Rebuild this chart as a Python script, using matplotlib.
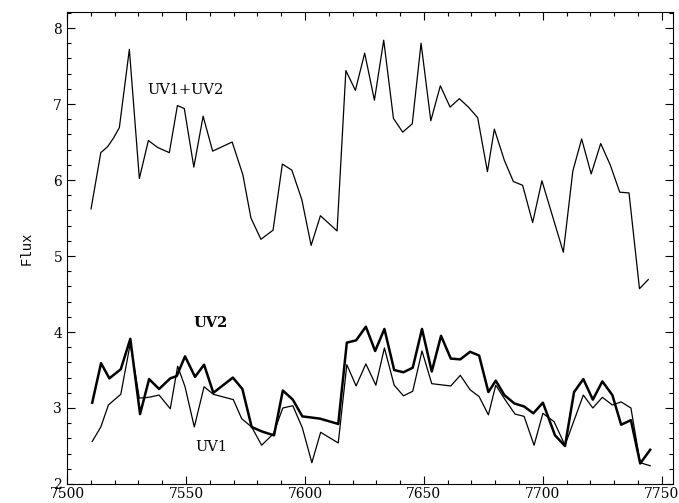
import numpy as np
import matplotlib
matplotlib.use("Agg")
import matplotlib.pyplot as plt
from matplotlib.ticker import MultipleLocator

# wavelength / flux values
wl_sum = [7510.1, 7514.2, 7517.1, 7519.5, 7522.0, 7526.2, 7530.4, 7534.2, 7538.0, 7543.0,
          7546.4, 7549.3, 7553.3, 7557.2, 7561.2, 7569.4, 7573.9, 7577.3, 7581.5, 7586.6,
          7590.5, 7594.5, 7598.7, 7602.6, 7606.5, 7613.5, 7617.2, 7621.2, 7625.1, 7629.2,
          7633.1, 7637.2, 7641.1, 7645.1, 7648.8, 7652.9, 7656.9, 7661.0, 7664.9, 7668.7,
          7672.6, 7676.7, 7679.6, 7683.8, 7687.6, 7691.5, 7695.7, 7699.6, 7708.6, 7712.6,
          7716.3, 7720.3, 7724.3, 7728.3, 7732.3, 7736.2, 7740.6, 7744.3]
flux_sum = [5.62, 6.36, 6.44, 6.55, 6.69, 7.72, 6.02, 6.52, 6.43, 6.36,
            6.98, 6.94, 6.17, 6.84, 6.38, 6.50, 6.07, 5.50, 5.22, 5.34,
            6.21, 6.13, 5.74, 5.14, 5.53, 5.33, 7.44, 7.18, 7.67, 7.05,
            7.84, 6.81, 6.63, 6.74, 7.80, 6.78, 7.24, 6.96, 7.07, 6.96,
            6.82, 6.11, 6.67, 6.26, 5.98, 5.93, 5.44, 5.99, 5.05, 6.12,
            6.54, 6.08, 6.48, 6.20, 5.84, 5.83, 4.57, 4.69]

wl_uv2 = [7510.6, 7514.3, 7517.8, 7522.6, 7526.6, 7530.7, 7534.5, 7538.7, 7543.4, 7546.1,
          7549.6, 7553.8, 7557.6, 7561.5, 7569.7, 7573.7, 7577.6, 7582.0, 7587.0, 7590.7,
          7594.9, 7598.9, 7606.3, 7614.0, 7617.6, 7621.5, 7625.6, 7629.5, 7633.4, 7637.5,
          7641.4, 7645.3, 7649.2, 7653.3, 7657.2, 7661.3, 7665.3, 7669.4, 7673.2, 7677.1,
          7680.2, 7683.8, 7688.0, 7692.1, 7696.0, 7700.0, 7705.1, 7709.3, 7713.1, 7717.0,
          7721.0, 7725.0, 7729.2, 7732.9, 7737.0, 7740.9, 7745.1]
flux_uv2 = [3.07, 3.59, 3.39, 3.51, 3.91, 2.92, 3.38, 3.25, 3.39, 3.42,
            3.68, 3.41, 3.57, 3.20, 3.40, 3.25, 2.75, 2.69, 2.64, 3.23,
            3.11, 2.89, 2.86, 2.79, 3.86, 3.89, 4.07, 3.75, 4.04, 3.50,
            3.47, 3.53, 4.04, 3.48, 3.95, 3.65, 3.64, 3.74, 3.69, 3.21,
            3.36, 3.17, 3.06, 3.02, 2.93, 3.07, 2.64, 2.50, 3.21, 3.38,
            3.11, 3.35, 3.17, 2.78, 2.84, 2.27, 2.45]

wl_uv1 = [7510.6, 7514.2, 7517.4, 7522.6, 7526.6, 7530.4, 7534.2, 7538.7, 7543.4, 7546.5,
          7549.6, 7553.5, 7557.6, 7561.5, 7569.9, 7573.4, 7577.6, 7581.8, 7586.7, 7590.7,
          7594.9, 7598.9, 7602.9, 7606.6, 7614.0, 7617.6, 7621.5, 7625.6, 7629.8, 7633.4,
          7637.5, 7641.4, 7645.3, 7649.2, 7653.3, 7661.3, 7665.3, 7669.4, 7673.2, 7677.1,
          7680.2, 7684.1, 7688.3, 7692.1, 7696.3, 7700.0, 7704.7, 7709.3, 7717.0, 7721.0,
          7725.0, 7729.2, 7732.9, 7737.0, 7740.9, 7745.1]
flux_uv1 = [2.56, 2.75, 3.04, 3.18, 3.85, 3.13, 3.14, 3.17, 2.99, 3.55,
            3.28, 2.75, 3.28, 3.18, 3.11, 2.86, 2.75, 2.51, 2.66, 3.00,
            3.03, 2.74, 2.28, 2.68, 2.54, 3.57, 3.29, 3.58, 3.30, 3.79,
            3.30, 3.16, 3.22, 3.75, 3.32, 3.29, 3.43, 3.24, 3.15, 2.91,
            3.30, 3.11, 2.92, 2.89, 2.51, 2.93, 2.82, 2.51, 3.17, 3.00,
            3.14, 3.04, 3.08, 3.00, 2.28, 2.24]

plt.rcParams['font.family'] = ['DejaVu Serif']

fig = plt.figure(figsize=(6.79, 5.03), dpi=100)
ax = fig.add_axes([0.0987, 0.0378, 0.8925, 0.9382])

ax.plot(wl_sum, flux_sum, color='black', lw=0.9)
ax.plot(wl_uv2, flux_uv2, color='black', lw=1.8)
ax.plot(wl_uv1, flux_uv1, color='black', lw=0.9)

ax.text(7550, 7.18, 'UV1+UV2', fontsize=10.5, ha='center', va='center')
ax.text(7560.5, 4.12, 'UV2', fontsize=10.5, fontweight='bold', ha='center', va='center')
ax.text(7560.5, 2.49, 'UV1', fontsize=10.5, ha='center', va='center')

ax.set_xlim(7500, 7754.7)
ax.set_ylim(2, 8.21)
ax.xaxis.set_major_locator(MultipleLocator(50))
ax.xaxis.set_minor_locator(MultipleLocator(10))
ax.yaxis.set_major_locator(MultipleLocator(1))
ax.yaxis.set_minor_locator(MultipleLocator(0.2))
ax.tick_params(which='both', direction='in', top=True, right=True, labelsize=10, width=0.8)
ax.tick_params(which='major', length=6)
ax.tick_params(which='minor', length=3)
ax.tick_params(axis='x', pad=2)
for s in ax.spines.values():
    s.set_linewidth(0.8)

ax.set_ylabel('Flux', family='Liberation Mono', fontsize=10, labelpad=14)

fig.savefig('out.png', dpi=100)
